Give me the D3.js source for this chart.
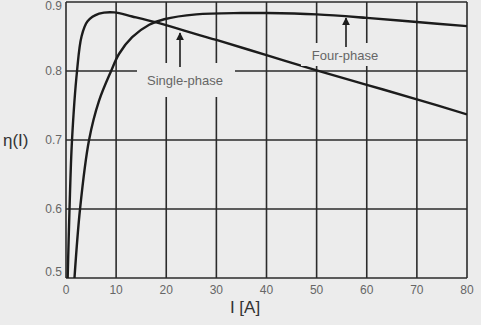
<!DOCTYPE html>
<html>
<head>
<meta charset="utf-8">
<script src="https://cdn.jsdelivr.net/npm/d3@7"></script>
<style>
  body { margin: 0; background: #ececec; }
  svg { display: block; font-family: "Liberation Sans", Arial, sans-serif; }
</style>
</head>
<body>
<svg id="chart" width="481" height="325"></svg>
<script>
// values
const xTicks = [0, 10, 20, 30, 40, 50, 60, 70, 80];
const yTicks = [0.5, 0.6, 0.7, 0.8, 0.9];

const singleI   = [0.3, 0.7, 1.2, 2.2, 3.1, 4.3, 6.6, 9.6, 13.2, 18.2, 26.6, 30, 40, 50, 60, 70, 80];
const singleEta = [0.49, 0.6, 0.7, 0.8, 0.85, 0.872, 0.883, 0.885, 0.879, 0.870, 0.852, 0.845, 0.823, 0.801, 0.780, 0.759, 0.737];

const fourI   = [1.6, 2.8, 4.6, 6.6, 9, 10.6, 13.2, 16.6, 19.6, 26, 35, 40, 50, 60, 70, 80];
const fourEta = [0.49, 0.6, 0.7, 0.757, 0.8, 0.825, 0.849, 0.867, 0.875, 0.882, 0.884, 0.884, 0.882, 0.877, 0.871, 0.865];

const svg = d3.select("#chart");
const x = d3.scaleLinear().domain([0, 80]).range([66, 467]);
const y = d3.scaleLinear().domain([0.5, 0.9]).range([278, 2]);

// clip so curves stop at the frame
svg.append("clipPath").attr("id", "plot")
  .append("rect").attr("x", x(0)).attr("y", y(0.9)).attr("width", x(80) - x(0)).attr("height", y(0.5) - y(0.9));

// grid
const grid = svg.append("g").attr("stroke", "#2b2b2b").attr("stroke-width", 1.6);
grid.selectAll("line.v").data(xTicks).join("line")
  .attr("x1", d => x(d)).attr("x2", d => x(d)).attr("y1", y(0.9)).attr("y2", y(0.5));
grid.selectAll("line.h").data(yTicks).join("line")
  .attr("y1", d => y(d)).attr("y2", d => y(d)).attr("x1", x(0)).attr("x2", x(80));

// tick labels
svg.append("g").selectAll("text").data(xTicks).join("text")
  .attr("x", d => x(d)).attr("y", 294)
  .attr("text-anchor", "middle").attr("font-size", 12).attr("fill", "#666")
  .text(d => d);
svg.append("g").selectAll("text").data(yTicks).join("text")
  .attr("x", 62).attr("y", d => y(d))
  .attr("dy", d => d === 0.9 ? "0.7em" : d === 0.5 ? "-0.2em" : "0.35em")
  .attr("text-anchor", "end").attr("font-size", 12).attr("fill", "#666")
  .text(d => d.toFixed(1));

// axis titles
svg.append("text").attr("x", 3).attr("y", y(0.7)).attr("dy", "0.35em")
  .attr("font-size", 17).attr("fill", "#333").text("η(I)");
svg.append("text").attr("x", 245).attr("y", 313).attr("text-anchor", "middle")
  .attr("font-size", 17).attr("fill", "#333").text("I [A]");

// curves
const line = d3.line().x(d => x(d[0])).y(d => y(d[1])).curve(d3.curveCatmullRom.alpha(0.5));
const curves = svg.append("g").attr("clip-path", "url(#plot)")
  .attr("fill", "none").attr("stroke", "#1c1c1c").attr("stroke-width", 2.4);
curves.append("path").attr("d", line(d3.zip(singleI, singleEta)));
curves.append("path").attr("d", line(d3.zip(fourI, fourEta)));

// annotations
const notes = [
  { label: "Single-phase", tx: 185, ty: 80, ax: 180, top: 33, box: [137, 63, 98, 34] },
  { label: "Four-phase", tx: 345, ty: 55, ax: 346, top: 18, box: [301, 43, 90, 23] }
];
svg.append("defs").append("marker").attr("id", "head")
  .attr("viewBox", "0 0 10 10").attr("refX", 9).attr("refY", 5)
  .attr("markerWidth", 5).attr("markerHeight", 5).attr("orient", "auto")
  .append("path").attr("d", "M0,0L10,5L0,10z").attr("fill", "#1c1c1c");
const ann = svg.append("g").selectAll("g").data(notes).join("g");
ann.append("rect")
  .attr("x", d => d.box[0]).attr("y", d => d.box[1])
  .attr("width", d => d.box[2]).attr("height", d => d.box[3])
  .attr("fill", "#ececec");
ann.append("line")
  .attr("x1", d => d.ax).attr("x2", d => d.ax)
  .attr("y1", d => d.box[1] + 4).attr("y2", d => d.top)
  .attr("stroke", "#1c1c1c").attr("stroke-width", 1.6)
  .attr("marker-end", "url(#head)");
ann.append("text")
  .attr("x", d => d.tx).attr("y", d => d.ty).attr("dy", "0.35em")
  .attr("text-anchor", "middle").attr("font-size", 13).attr("fill", "#666")
  .text(d => d.label);
</script>
</body>
</html>
